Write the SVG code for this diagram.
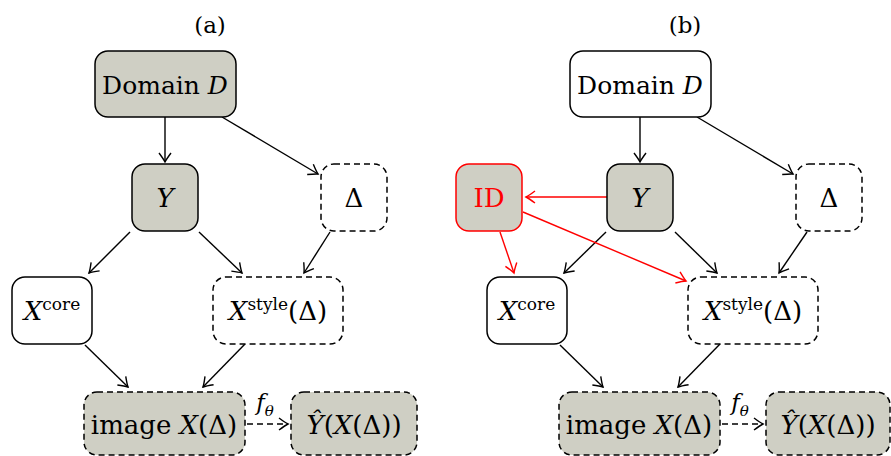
<svg xmlns="http://www.w3.org/2000/svg" width="891" height="456" viewBox="0 0 891 456">
<style>
.n{stroke:#000;stroke-width:1.5;fill:#fff}
.g{fill:#cfcfc4}
.d{stroke-dasharray:6,4}
.r{stroke:#f00}
text{font-family:'DejaVu Serif',serif;font-size:26px;fill:#000;text-anchor:middle}
.i{font-style:italic}
.e{stroke:#000;stroke-width:1.4;fill:none;marker-end:url(#ah)}
.er{stroke:#f00;stroke-width:1.4;fill:none;marker-end:url(#ahr)}
</style>
<defs>
<marker id="ah" markerUnits="userSpaceOnUse" markerWidth="16" markerHeight="16" viewBox="-12 -8 14 16" refX="0" refY="0" orient="auto">
<path d="M-9,-6 Q-3,-1.5 0,0 Q-3,1.5 -9,6" fill="none" stroke="#000" stroke-width="1.4"/>
</marker>
<marker id="ahr" markerUnits="userSpaceOnUse" markerWidth="16" markerHeight="16" viewBox="-12 -8 14 16" refX="0" refY="0" orient="auto">
<path d="M-9,-6 Q-3,-1.5 0,0 Q-3,1.5 -9,6" fill="none" stroke="#f00" stroke-width="1.4"/>
</marker>
</defs>
<text x="210" y="33" style="font-size:23px">(a)</text>
<text x="685" y="33" style="font-size:23px">(b)</text>
<g id="connectors">
<line class="e" x1="165" y1="117" x2="165" y2="162"/>
<line class="e" x1="222" y1="117" x2="318" y2="174"/>
<line class="e" x1="130" y1="232" x2="89" y2="273"/>
<line class="e" x1="199" y1="232" x2="242" y2="273"/>
<line class="e" x1="330" y1="232" x2="304" y2="273"/>
<line class="e" x1="85" y1="345" x2="128" y2="387"/>
<line class="e" x1="245" y1="344" x2="203" y2="387"/>
<line class="e d" x1="247" y1="424" x2="288" y2="424"/>
<line class="e" x1="640" y1="117" x2="640" y2="162"/>
<line class="e" x1="697" y1="117" x2="793" y2="174"/>
<line class="e" x1="606" y1="232" x2="564" y2="273"/>
<line class="e" x1="675" y1="232" x2="717" y2="273"/>
<line class="e" x1="807" y1="232" x2="779" y2="273"/>
<line class="e" x1="560" y1="345" x2="603" y2="387"/>
<line class="e" x1="720" y1="344" x2="678" y2="387"/>
<line class="e d" x1="722" y1="424" x2="763" y2="424"/>
<line class="er" x1="607" y1="197" x2="526" y2="197"/>
<line class="er" x1="500" y1="232" x2="514" y2="273"/>
<line class="er" x1="523" y1="212" x2="686" y2="281"/>
</g>
<g id="fa"><text x="265" y="410" class="i" style="font-size:23px">f<tspan dy="6" style="font-size:15px">θ</tspan></text></g>
<g id="fb"><text x="740" y="410" class="i" style="font-size:23px">f<tspan dy="6" style="font-size:15px">θ</tspan></text></g>
<g id="a-domain"><rect class="n g" x="95" y="51" width="141" height="66" rx="13"/><text x="165" y="94" style="font-size:25px">Domain <tspan class="i">D</tspan></text></g>
<g id="a-y"><rect class="n g" x="132" y="164" width="66" height="67" rx="13"/><text x="165" y="207" class="i">Y</text></g>
<g id="a-delta"><rect class="n d" x="321" y="164" width="66" height="67" rx="13"/><text x="354" y="207">Δ</text></g>
<g id="a-xcore"><rect class="n" x="12" y="277" width="80" height="67" rx="13"/><text x="52" y="320"><tspan class="i">X</tspan><tspan dy="-10" style="font-size:17px">core</tspan></text></g>
<g id="a-xstyle"><rect class="n d" x="213" y="277" width="130" height="67" rx="13"/><text x="278" y="320"><tspan class="i">X</tspan><tspan dy="-10" style="font-size:17px">style</tspan><tspan dy="10">(Δ)</tspan></text></g>
<g id="a-image"><rect class="n g d" x="84" y="392" width="161" height="63" rx="13"/><text x="164" y="434">image <tspan class="i">X</tspan>(Δ)</text></g>
<g id="a-yhat"><rect class="n g d" x="291" y="392" width="126" height="63" rx="13"/><text x="354" y="434"><tspan class="i">Ŷ</tspan>(<tspan class="i">X</tspan>(Δ))</text></g>
<g id="b-domain"><rect class="n" x="570" y="51" width="141" height="66" rx="13"/><text x="640" y="94" style="font-size:25px">Domain <tspan class="i">D</tspan></text></g>
<g id="b-y"><rect class="n g" x="607" y="164" width="66" height="67" rx="13"/><text x="640" y="207" class="i">Y</text></g>
<g id="b-id"><rect class="n g r" x="456" y="164" width="66" height="67" rx="13"/><text x="489" y="207" style="fill:#f00">ID</text></g>
<g id="b-delta"><rect class="n d" x="796" y="164" width="66" height="67" rx="13"/><text x="829" y="207">Δ</text></g>
<g id="b-xcore"><rect class="n" x="487" y="277" width="80" height="67" rx="13"/><text x="527" y="320"><tspan class="i">X</tspan><tspan dy="-10" style="font-size:17px">core</tspan></text></g>
<g id="b-xstyle"><rect class="n d" x="688" y="277" width="130" height="67" rx="13"/><text x="753" y="320"><tspan class="i">X</tspan><tspan dy="-10" style="font-size:17px">style</tspan><tspan dy="10">(Δ)</tspan></text></g>
<g id="b-image"><rect class="n g d" x="559" y="392" width="161" height="63" rx="13"/><text x="639" y="434">image <tspan class="i">X</tspan>(Δ)</text></g>
<g id="b-yhat"><rect class="n g d" x="766" y="392" width="124" height="63" rx="13"/><text x="828" y="434"><tspan class="i">Ŷ</tspan>(<tspan class="i">X</tspan>(Δ))</text></g>
</svg>
